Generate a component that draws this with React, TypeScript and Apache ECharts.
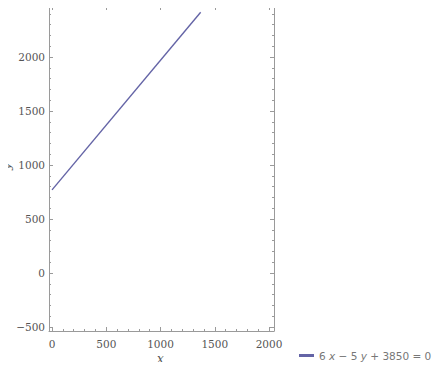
import React, { useEffect, useRef } from "react";
import * as echarts from "echarts";

const lineX = [0, 1370];
const lineY = [770, 2414];
const xMajor = [0, 500, 1000, 1500, 2000];
const yMajor = [-500, 0, 500, 1000, 1500, 2000];
const xMinor = [0, 100, 200, 300, 400, 500, 600, 700, 800, 900, 1000, 1100, 1200, 1300, 1400, 1500, 1600, 1700, 1800, 1900, 2000];
const yMinor = [-500, -400, -300, -200, -100, 0, 100, 200, 300, 400, 500, 600, 700, 800, 900, 1000, 1100, 1200, 1300, 1400, 1500, 1600, 1700, 1800, 1900, 2000, 2100, 2200, 2300, 2400];
const seriesName = "6 x − 5 y + 3850 = 0";

const X_MIN = -28, X_MAX = 2046, Y_MIN = -537, Y_MAX = 2472;
const frameColor = "#9a9a9a";
const labelColor = "#555";
const fmt = (v: number) => (v < 0 ? "−" + Math.abs(v) : String(v));

export default function App() {
  const ref = useRef<HTMLDivElement>(null);
  useEffect(() => {
    const chart = echarts.init(ref.current!, null, { renderer: "svg" });
    const mkX = (pos: string, major: boolean, labels: boolean, line: boolean) => ({
      type: "value", position: pos, min: X_MIN, max: X_MAX,
      splitLine: { show: false },
      axisLine: { show: line, onZero: false, lineStyle: { color: frameColor, width: 1 } },
      axisTick: { show: true, inside: true, length: major ? 4 : 2, customValues: major ? xMajor : xMinor, lineStyle: { color: frameColor } },
      axisLabel: { show: labels, customValues: xMajor, formatter: fmt, color: labelColor, fontFamily: "DejaVu Serif", fontSize: 10.5, margin: 7 },
    });
    const mkY = (pos: string, major: boolean, labels: boolean, line: boolean) => ({
      type: "value", position: pos, min: Y_MIN, max: Y_MAX,
      splitLine: { show: false },
      axisLine: { show: line, onZero: false, lineStyle: { color: frameColor, width: 1 } },
      axisTick: { show: true, inside: true, length: major ? 4 : 2, customValues: major ? yMajor : yMinor, lineStyle: { color: frameColor } },
      axisLabel: { show: labels, customValues: yMajor, formatter: fmt, color: labelColor, fontFamily: "DejaVu Serif", fontSize: 10.5, margin: 4 },
    });
    chart.setOption({
      animation: false,
      grid: { left: 49, right: 174, top: 6, bottom: 39, containLabel: false },
      xAxis: [mkX("bottom", true, true, true), mkX("bottom", false, false, false), mkX("top", true, false, true), mkX("top", false, false, false)],
      yAxis: [mkY("left", true, true, true), mkY("left", false, false, false), mkY("right", true, false, true), mkY("right", false, false, false)],
      legend: {
        left: 294, top: 345, itemWidth: 15, itemHeight: 3, icon: "rect", itemGap: 5,
        data: [seriesName],
        formatter: () => "6 {i|x} − 5 {i|y} + 3850 = 0",
        textStyle: {
          color: "#777", fontFamily: "DejaVu Sans", fontSize: 10.5,
          rich: { i: { fontStyle: "italic", color: "#777", fontFamily: "DejaVu Sans", fontSize: 10.5 } },
        },
      },
      graphic: [
        { type: "text", x: 157, y: 353, style: { text: "x", fontStyle: "italic", fontSize: 12, fontFamily: "DejaVu Serif", fill: "#555" } },
        { type: "text", x: 0, y: 170, rotation: Math.PI / 2, style: { text: "y", fontStyle: "italic", fontSize: 12, fontFamily: "DejaVu Serif", fill: "#555" } },
      ],
      series: [{
        name: seriesName, type: "line", xAxisIndex: 0, yAxisIndex: 0,
        data: lineX.map((x, i) => [x, lineY[i]]),
        showSymbol: false, lineStyle: { color: "#6464a6", width: 1.4 }, itemStyle: { color: "#6464a6" },
      }],
    });
    return () => chart.dispose();
  }, []);
  return <div ref={ref} style={{ width: 448, height: 370, margin: -8 }} />;
}
